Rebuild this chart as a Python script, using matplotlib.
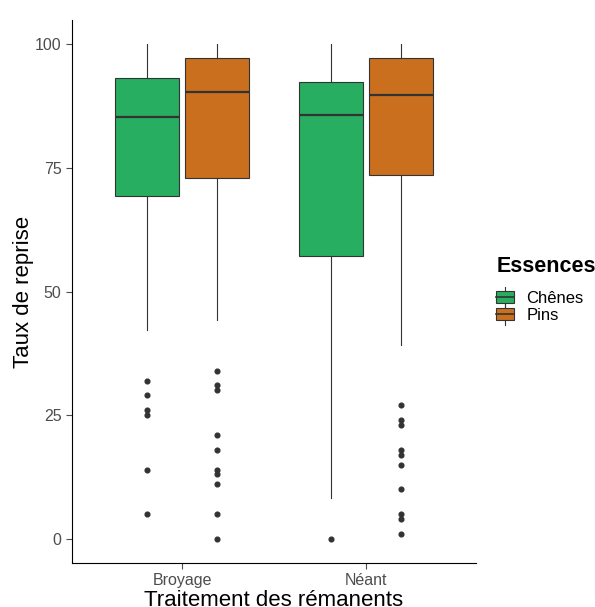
import matplotlib
matplotlib.use("Agg")
import matplotlib.pyplot as plt
from matplotlib.patches import Rectangle
from matplotlib.lines import Line2D
from matplotlib.legend_handler import HandlerBase

plt.rcParams['font.family'] = ['Liberation Sans', 'DejaVu Sans']

categories = ["Broyage", "Néant"]
species = ["Chênes", "Pins"]
colors = {"Chênes": "#27AE60", "Pins": "#CA6F1E"}

# box statistics: (whislo, q1, median, q3, whishi)
stats_chenes = [(42.2, 69.3, 85.3, 93.1, 100.0), (8.3, 57.2, 85.7, 92.3, 100.0)]
stats_pins = [(44.2, 72.9, 90.3, 97.2, 100.0), (39.2, 73.5, 89.7, 97.2, 100.0)]
outliers_chenes = [[32, 29, 26, 25, 14, 5], [0]]
outliers_pins = [[34, 31, 30, 21, 18, 14, 13, 11, 5, 0],
                 [27, 24, 23, 18, 17, 15, 10, 5, 4, 1]]

fig = plt.figure(figsize=(5.95, 6.07), dpi=100)
ax = fig.add_axes([72/595, 1-563/607, (476-72)/595, (563-20)/607])

def make_stats(st, outs):
    res = []
    for (lo, q1, med, q3, hi), fl in zip(st, outs):
        res.append(dict(whislo=lo, q1=q1, med=med, q3=q3, whishi=hi, fliers=fl))
    return res

offset = 0.19
width = 0.35
line_c = "#333333"
for sp, st, outs, off in [("Chênes", stats_chenes, outliers_chenes, -offset),
                          ("Pins", stats_pins, outliers_pins, offset)]:
    pos = [i + 1 + off for i in range(len(categories))]
    ax.bxp(make_stats(st, outs), positions=pos, widths=width, patch_artist=True,
           showcaps=False,
           boxprops=dict(facecolor=colors[sp], edgecolor=line_c, linewidth=0.8),
           medianprops=dict(color=line_c, linewidth=1.6),
           whiskerprops=dict(color=line_c, linewidth=0.8),
           flierprops=dict(marker='o', markerfacecolor=line_c, markeredgecolor=line_c,
                           markersize=3.4, linestyle='none'),
           manage_ticks=False, zorder=2)

ax.set_xlim(0.4, 2.6)
ax.set_ylim(-4.9, 104.9)
ax.set_xticks([1, 2])
ax.set_xticklabels(categories)
ax.set_yticks([0, 25, 50, 75, 100])
ax.tick_params(axis='both', colors='#4D4D4D', labelsize=11.5, length=4, width=0.8)
ax.tick_params(axis='both', labelcolor='#4D4D4D')
for s in ['top', 'right']:
    ax.spines[s].set_visible(False)
for s in ['left', 'bottom']:
    ax.spines[s].set_color('black')
    ax.spines[s].set_linewidth(0.8)
ax.set_xlabel("Traitement des rémanents", fontsize=16, labelpad=1)
ax.set_ylabel("Taux de reprise", fontsize=16, labelpad=1)

class BoxHandler(HandlerBase):
    def __init__(self, color):
        super().__init__()
        self.color = color
    def create_artists(self, legend, orig_handle, xdescent, ydescent, width, height, fontsize, trans):
        x0 = -xdescent
        y0 = -ydescent
        arts = []
        arts.append(Line2D([x0 + width/2, x0 + width/2], [y0 - 2, y0 + height + 2], color=line_c, lw=0.8, transform=trans))
        arts.append(Rectangle((x0, y0 + height*0.1), width, height*0.8, facecolor=self.color, edgecolor=line_c, lw=0.8, transform=trans))
        arts.append(Line2D([x0, x0 + width], [y0 + height/2, y0 + height/2], color=line_c, lw=1.2, transform=trans))
        return arts

h1 = Rectangle((0, 0), 1, 1)
h2 = Rectangle((0, 0), 1, 1)
leg = fig.legend([h1, h2], species, handler_map={h1: BoxHandler(colors["Chênes"]), h2: BoxHandler(colors["Pins"])},
                 loc='upper left', bbox_to_anchor=(488/595, 1-248/607), frameon=False,
                 title="Essences", fontsize=12, handlelength=1.05, handleheight=1.0,
                 handletextpad=0.75, labelspacing=0.05, borderpad=0)
leg.get_title().set_fontweight('bold')
leg.get_title().set_fontsize(15.5)
leg._legend_box.align = "left"
leg._legend_box.sep = 9

fig.savefig("out.png", dpi=100)
